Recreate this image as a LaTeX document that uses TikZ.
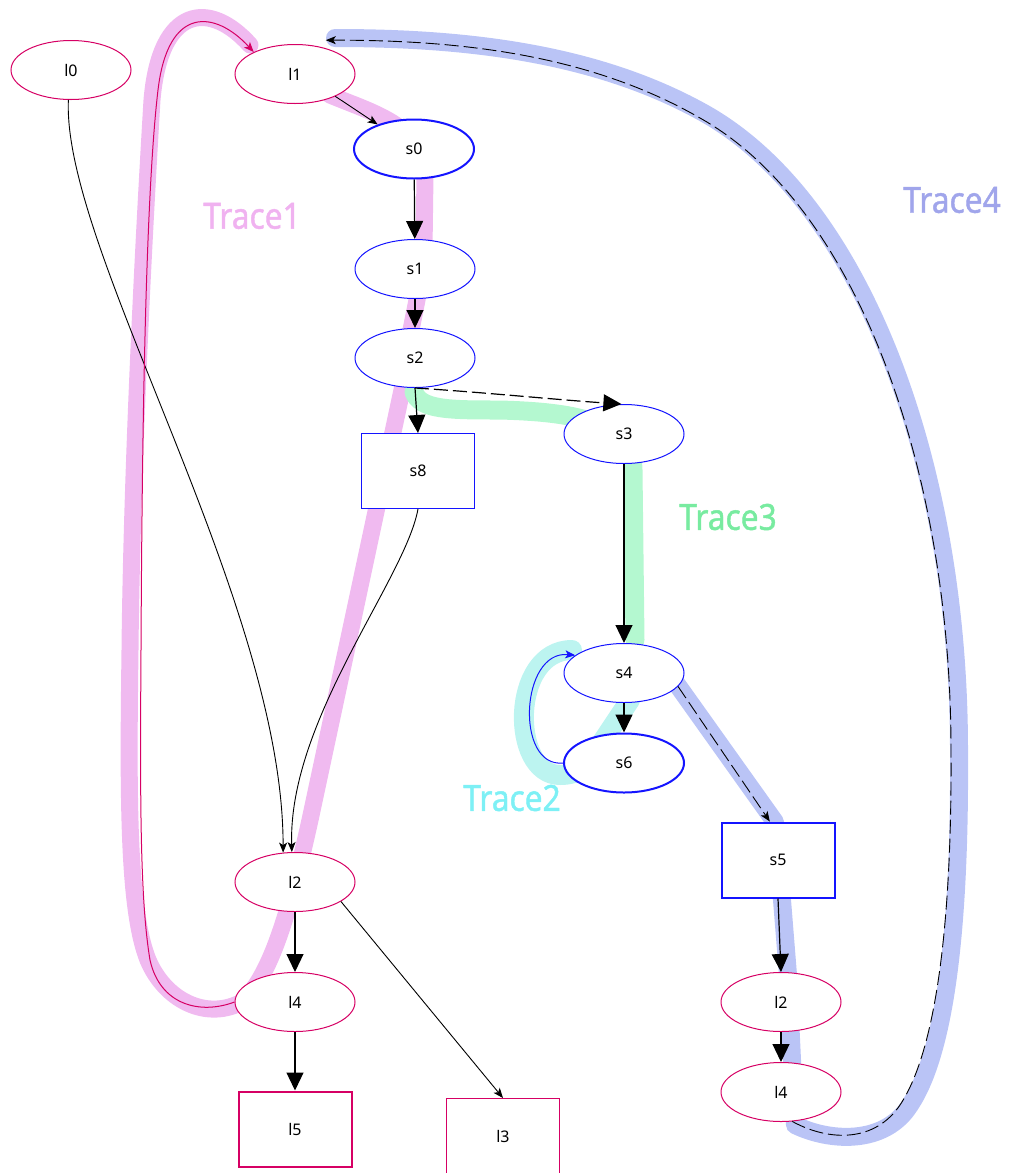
\documentclass[tikz,border=0pt]{standalone}
\usepackage{graphicx}
\usepackage{fontspec}
\setmainfont{Noto Sans}
\newfontfamily\tracefont[FakeBold=1.3]{Noto Sans}
\usetikzlibrary{shapes.geometric,arrows.meta}
\definecolor{crim}{RGB}{214,0,100}
\definecolor{sblue}{RGB}{20,20,255}
\definecolor{tOne}{RGB}{240,186,240}
\definecolor{tTwo}{RGB}{188,244,240}
\definecolor{tThree}{RGB}{180,248,208}
\definecolor{tFour}{RGB}{186,196,246}
\definecolor{lOne}{RGB}{240,178,240}
\definecolor{lTwo}{RGB}{125,240,245}
\definecolor{lThree}{RGB}{120,235,160}
\definecolor{lFour}{RGB}{160,165,235}
\newcommand{\tracetext}[1]{\scalebox{0.88}[1]{#1}}
\begin{document}
\begin{tikzpicture}[x=1pt,y=-1pt,
  ell/.style={ellipse, fill=white, minimum width=120pt, minimum height=59pt, inner sep=0pt, font=\fontsize{16}{18}\selectfont},
  boxn/.style={rectangle, fill=white, minimum width=113pt, minimum height=75pt, inner sep=0pt, font=\fontsize{16}{18}\selectfont},
  lthin/.style={draw=crim, line width=1pt},
  lthick/.style={draw=crim, line width=2pt},
  sthin/.style={draw=sblue, line width=1pt},
  sthick/.style={draw=sblue, line width=2pt},
  big/.style={-{Triangle[length=18pt,width=17pt]}, line width=1.2pt},
  small/.style={-{Stealth[length=10pt,width=8pt,inset=2.5pt]}, line width=0.9pt},
  band/.style={line width=16pt, line cap=round, line join=round},
  dsh/.style={dash pattern=on 14pt off 5pt},
  tlabel/.style={font=\tracefont\fontsize{36}{38}\selectfont}
]
\useasboundingbox (0,0) rectangle (1013,1173);

% trace bands
\draw[band, tOne, line width=17pt] (330,95) .. controls (370,112) and (424,125) .. (425,175) -- (424,250) -- (417,300) -- (410,335) -- (402,390) -- (310,820) .. controls (290,910) and (270,980) .. (240,1003) .. controls (205,1020) and (165,1000) .. (148,960) .. controls (128,910) and (128,800) .. (130,650) .. controls (132,450) and (146,200) .. (152,100) .. controls (160,5) and (210,0) .. (250,45);
\draw[band, tThree, line width=19pt] (414,392) .. controls (420,410) and (450,410) .. (500,410) .. controls (570,412) and (632,420) .. (633,470) -- (635,640);
\draw[band, tTwo, line width=20pt] (630,700) -- (598,748) .. controls (590,765) and (580,775) .. (560,775) .. controls (510,775) and (510,650) .. (572,650);
\draw[band, tFour, line width=18pt] (676,683) -- (775,822) -- (782,900) -- (788,975) -- (792,1060) -- (795,1125) .. controls (830,1142) and (885,1145) .. (910,1105) .. controls (950,1045) and (960,900) .. (959,750) .. controls (959,465) and (862,200) .. (702,112) .. controls (590,50) and (455,38) .. (335,38);

% nodes
\node[ell, lthin] (l0) at (71,70) {l0};
\node[ell, lthin] (l1) at (295,74) {l1};
\node[ell, sthick] (s0) at (414,149) {s0};
\node[ell, sthin] (s1) at (415,269) {s1};
\node[ell, sthin] (s2) at (415,358) {s2};
\node[boxn, sthin] (s8) at (418,471) {s8};
\node[ell, sthin] (s3) at (624,434) {s3};
\node[ell, sthin] (s4) at (624,673) {s4};
\node[ell, sthick] (s6) at (624,763) {s6};
\node[boxn, sthick] (s5) at (778,860) {s5};
\node[ell, lthin] (l2r) at (781,1002) {l2};
\node[ell, lthin] (l4r) at (781,1092) {l4};
\node[ell, lthin] (l2) at (295,882) {l2};
\node[ell, lthin] (l4) at (295,1002) {l4};
\node[boxn, lthick] (l5) at (295,1129) {l5};
\node[boxn, lthin] (l3) at (503,1136) {l3};

% edges
\draw[small] (l0.-95) .. controls (62,250) and (283,600) .. (l2.112);
\draw[small] (s8.south) .. controls (405,580) and (288,720) .. (l2.96);
\draw[small] (l1.-29) -- (s0.146);
\draw[big] (s0) -- (s1);
\draw[big] (s1) -- (s2);
\draw[big] (s2.south) -- (s8.north);
\draw[big, dsh] (s2.south) .. controls (480,392) and (560,400) .. (s3.95);
\draw[big] (s3) -- (s4);
\draw[big] (s4) -- (s6);
\draw[small, sblue, line width=1pt] (s6.west) .. controls (515,768) and (520,650) .. (s4.160);
\draw[small, dsh] (s4.-14) -- (s5.102);
\draw[big] (s5.south) -- (l2r.north);
\draw[big] (l2r) -- (l4r);
\draw[small, dsh] (l4r.-69) .. controls (830,1142) and (875,1142) .. (900,1105) .. controls (940,1045) and (952,900) .. (951,750) .. controls (951,470) and (857,206) .. (700,118) .. controls (587,53) and (455,40) .. ([yshift=8pt]l1.40);
\draw[big] (l2) -- (l4);
\draw[small] (l2.-23) -- (l3.north);
\draw[big] (l4) -- (l5);
\draw[small, crim, line width=1pt] (l4.west) .. controls (200,1015) and (160,1005) .. (150,960) .. controls (140,900) and (140,800) .. (141,650) .. controls (142,450) and (145,200) .. (158,90) .. controls (168,5) and (215,10) .. (l1.152);

% trace labels
\node[tlabel, lOne] (t1) at (252,216) {\tracetext{Trace1}};
\node[tlabel, lTwo] (t2) at (512,798) {\tracetext{Trace2}};
\node[tlabel, lThree] (t3) at (728,517) {\tracetext{Trace3}};
\node[tlabel, lFour] (t4) at (952,200) {\tracetext{Trace4}};
\end{tikzpicture}
\end{document}
